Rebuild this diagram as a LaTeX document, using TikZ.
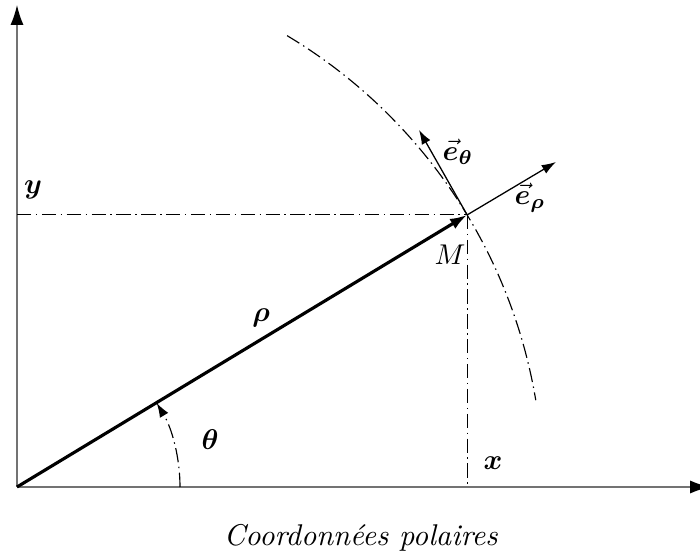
\documentclass[tikz,border=0pt]{standalone}
\usepackage{tikz}
\usepackage{bm}
\usetikzlibrary{arrows.meta}

\begin{document}
\begin{tikzpicture}[
    x=0.35pt, y=0.35pt,
    >={Latex[length=5pt, width=3.4pt]},
    AX/.style={-{Latex[length=7pt, width=4.6pt, color=black]}, draw=black!55, line width=0.5pt},
    V/.style={->, line width=#1},
    DD/.style={line width=0.4pt, dash pattern=on 5pt off 1.6pt on 0.5pt off 1.6pt},
    L/.style={inner sep=1pt}
]
\useasboundingbox (-17,-67) rectangle (683,487);

% === POINTS ===
\coordinate (O) at (0,0);
\coordinate (M) at (31.15:526);
\coordinate (xtip) at (693,0);
\coordinate (ytip) at (0,482);
\coordinate (Mx) at (M |- O);
\coordinate (My) at (M -| O);
\coordinate (erho) at (539,325);
\coordinate (eth) at (402,357);

% === AXES ===
\draw[AX] (O) -- (xtip);
\draw[AX] (O) -- (ytip);

% === PROJECTIONS ===
\draw[DD] (My) -- (M);
\draw[DD] (M) -- (Mx);

% === CIRCLE OF RADIUS RHO ===
\draw[DD] (59.1:526) arc[start angle=59.1, end angle=9.5, radius=526];

% === VECTORS ===
\draw[V=1.1pt, >={Latex[length=6pt, width=4pt]}] (O) -- (M);
\draw[V=0.45pt] (M) -- (erho);
\draw[V=0.45pt] (M) -- (eth);

% angle theta
\draw[DD, ->] (163,0) arc[start angle=0, end angle=31, radius=163];

% === LABELS ===
\node[L] (ly) at (16,297) {$\bm{y}$};
\node[L] (lx) at (476,24) {$\bm{x}$};
\node[L] (lM) at (433,232) {$M$};
\node[L] (lrho) at (244,169) {$\bm{\rho}$};
\node[L] (lth) at (193,47) {$\bm{\theta}$};
\node[L] (lerho) at (513,289) {$\vec{\bm{e}}_{\bm{\rho}}$};
\node[L] (leth) at (441,335) {$\vec{\bm{e}}_{\bm{\theta}}$};

\node[L, font=\fontsize{10.5}{12}\selectfont] (cap) at (344,-51) {\textit{Coordonn\'ees polaires}};

\end{tikzpicture}
\end{document}
